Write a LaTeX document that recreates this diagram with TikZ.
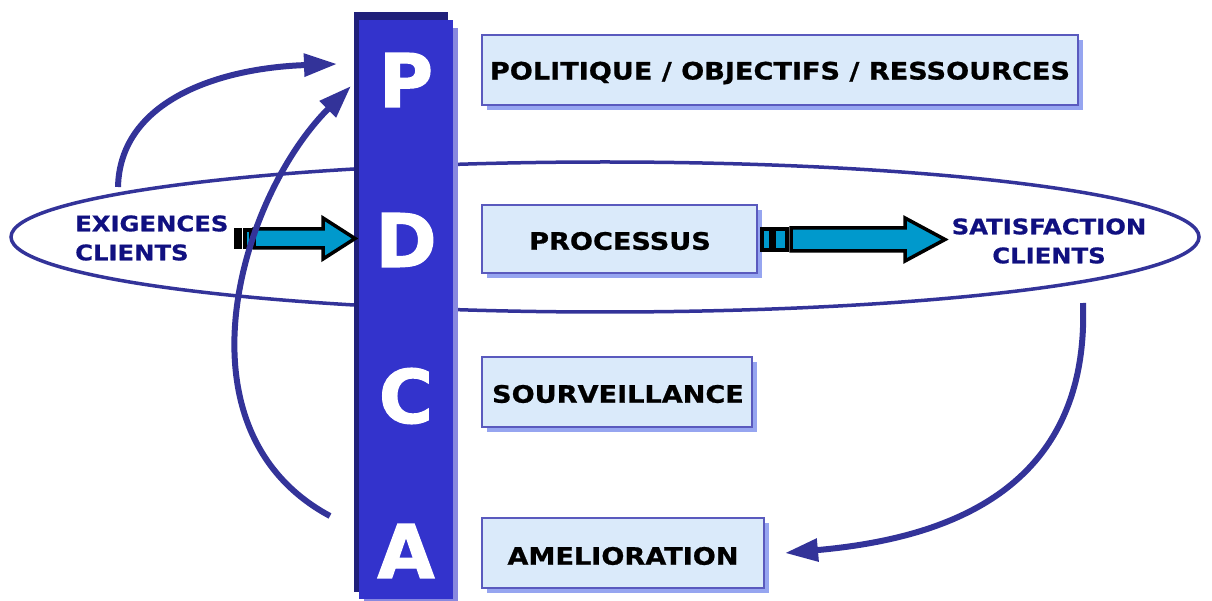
\documentclass[tikz,border=0pt]{standalone}
\usepackage{fontspec}
\setmainfont{DejaVu Sans}
\newfontfamily\widefont[FakeStretch=1.13,FakeBold=0.8]{DejaVu Sans}
\newfontfamily\heavyfont[FakeBold=1.5]{DejaVu Sans}
\usetikzlibrary{arrows.meta}
\definecolor{barblue}{RGB}{51,51,204}
\definecolor{bardark}{RGB}{32,32,122}
\definecolor{barlight}{RGB}{136,136,224}
\definecolor{curveblue}{RGB}{51,51,153}
\definecolor{boxline}{RGB}{90,90,190}
\definecolor{boxfill}{RGB}{218,234,250}
\definecolor{boxshadow}{RGB}{150,165,240}
\definecolor{arrowcyan}{RGB}{0,153,204}
\definecolor{navytext}{RGB}{16,16,128}
\tikzset{
  x=1pt, y=-1pt,
  lettr/.style={text=white, font=\heavyfont\fontsize{74}{74}\selectfont\bfseries, inner sep=0pt},
  boxtxt/.style={font=\widefont\fontsize{24}{28}\selectfont\bfseries, text=black},
  sidetxt/.style={font=\widefont\fontsize{21.5}{29}\selectfont\bfseries, text=navytext, inner sep=0pt},
  curvearrow/.style={draw=curveblue, line width=6pt, -{Triangle[length=33pt,width=22pt]}},
  blockarrow/.style={draw=black, line width=3.5pt, fill=arrowcyan, line join=miter},
}
\newcommand{\stepbox}[5]{% name, x1, y1, x2, y2
  \fill[boxshadow] (#2+5,#3+5) rectangle (#4+5,#5+5);
  \draw[boxline, line width=1.5pt, fill=boxfill] (#2,#3) rectangle (#4,#5);
  \coordinate (#1) at ({(#2+#4)/2},{(#3+#5)/2});
}
\begin{document}
\begin{tikzpicture}
\useasboundingbox (0,0) rectangle (1212,601);
% ellipse
\draw[curveblue, line width=3.5pt] (605,237) ellipse [x radius=594, y radius=75];
% bar
\fill[bardark] (354,12) rectangle (448,592);
\fill[barlight] (364,28) rectangle (458,601);
\fill[barblue] (359,20) rectangle (453,599);
\node[lettr] (P) at (406,80) {P};
\node[lettr] (D) at (406,240) {D};
\node[lettr] (C) at (406,396) {C};
\node[lettr] (A) at (406,551) {A};
% boxes
\stepbox{b1}{482}{35}{1078}{105}
\stepbox{b2}{482}{205}{757}{273}
\stepbox{b3}{482}{357}{752}{427}
\stepbox{b4}{482}{518}{764}{588}
\node[boxtxt] (t1) at (780,73) {POLITIQUE / OBJECTIFS / RESSOURCES};
\node[boxtxt] (t2) at (620,241) {PROCESSUS};
\node[boxtxt] (t3) at (618,394) {SOURVEILLANCE};
\node[boxtxt] (t4) at (623,556) {AMELIORATION};
% side texts
\node[sidetxt, align=left, anchor=west] (exig) at (75,238) {EXIGENCES\\CLIENTS};
\node[sidetxt, align=center] (satis) at (1049,241) {SATISFACTION\\CLIENTS};
% block arrow left
\fill[black] (234,228) rectangle (242,249);
\draw[blockarrow] (245,230) rectangle (251,247);
\draw[blockarrow] (254,229) -- (323,229) -- (323,218) -- (355,238.5) -- (323,259) -- (323,248) -- (254,248) -- cycle;
% block arrow right
\draw[blockarrow] (762,229) rectangle (771,250);
\draw[blockarrow] (774,229) rectangle (787,250);
\draw[blockarrow] (791,228) -- (905,228) -- (905,218) -- (945,239.5) -- (905,261) -- (905,251) -- (791,251) -- cycle;
% curved arrows
\coordinate (s1) at (118,187);
\coordinate (e1) at (337,64);
\coordinate (s2) at (330,516);
\coordinate (e2) at (351,86);
\coordinate (s3) at (1083,303);
\coordinate (e3) at (785,553);
\draw[curvearrow] (s1) .. controls (120,100) and (220,68) .. (e1);
\draw[curvearrow] (s2) .. controls (170,430) and (240,197) .. (e2);
\draw[curvearrow] (s3) .. controls (1090,500) and (930,540) .. (e3);
\end{tikzpicture}
\end{document}
